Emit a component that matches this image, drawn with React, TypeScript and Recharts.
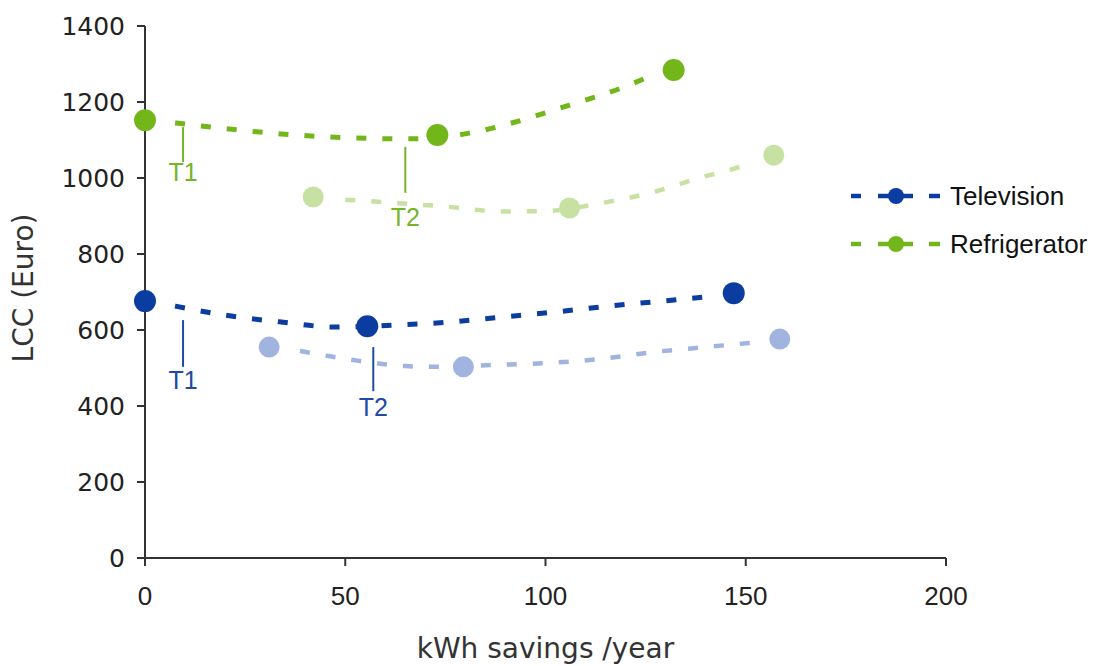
import React from 'react';
import { ComposedChart, Line, Scatter, XAxis, YAxis, ReferenceLine, ReferenceDot } from 'recharts';

// ---- tick labels ----
const xTicks = [0, 50, 100, 150, 200];
const yTicks = [0, 200, 400, 600, 800, 1000, 1200, 1400];

// ---- measured points (x: kWh savings/year, y: LCC Euro) ----
const tvDark = [
  { x: 0, y: 676 },
  { x: 55.5, y: 610 },
  { x: 147, y: 697 },
];
const tvLight = [
  { x: 31, y: 555 },
  { x: 79.5, y: 503 },
  { x: 158.5, y: 576 },
];
const fridgeDark = [
  { x: 0, y: 1152 },
  { x: 73, y: 1113 },
  { x: 132, y: 1284 },
];
const fridgeLight = [
  { x: 42, y: 950 },
  { x: 106, y: 921 },
  { x: 157, y: 1060 },
];

// ---- dashed trend curves ----
const tvDarkCurve = [
  { x: 7.5, y: 663 }, { x: 20, y: 639 }, { x: 34, y: 621 }, { x: 47, y: 608 },
  { x: 63, y: 613 }, { x: 76, y: 621 }, { x: 89, y: 634 }, { x: 102, y: 647 },
  { x: 116, y: 663 }, { x: 129, y: 676 }, { x: 142, y: 689 },
];
const tvLightCurve = [
  { x: 38.7, y: 545 }, { x: 52, y: 521 }, { x: 65, y: 505 }, { x: 72, y: 503 },
  { x: 87, y: 508 }, { x: 100, y: 513 }, { x: 114, y: 524 }, { x: 127, y: 542 },
  { x: 140, y: 555 }, { x: 153, y: 568 },
];
const fridgeDarkCurve = [
  { x: 7.5, y: 1145 }, { x: 20, y: 1130 }, { x: 34, y: 1116 }, { x: 50, y: 1106 },
  { x: 66, y: 1103 }, { x: 81, y: 1118 }, { x: 94, y: 1152 }, { x: 106, y: 1192 },
  { x: 119, y: 1237 }, { x: 125, y: 1263 },
];
const fridgeLightCurve = [
  { x: 50, y: 943 }, { x: 63, y: 934 }, { x: 76, y: 924 }, { x: 89, y: 912 },
  { x: 100, y: 913 }, { x: 114, y: 934 }, { x: 127, y: 963 }, { x: 139, y: 1002 },
  { x: 146, y: 1021 }, { x: 152, y: 1042 },
];

// ---- annotations (T1/T2) ----
const fridgeNotes = [
  { label: 'T1', x: 9.5, yTop: 1134, yBottom: 1042, yText: 1016 },
  { label: 'T2', x: 65, yTop: 1082, yBottom: 961, yText: 897 },
];
const tvNotes = [
  { label: 'T1', x: 9.5, yTop: 626, yBottom: 503, yText: 468 },
  { label: 'T2', x: 57, yTop: 555, yBottom: 439, yText: 397 },
];

const legendItems = ['Television', 'Refrigerator'];

const GREEN = '#72b61a';
const GREEN_LIGHT = '#c7e1a2';
const BLUE = '#0b3c9f';
const BLUE_LIGHT = '#a0b4df';
const GREEN_TEXT = '#74b52a';
const BLUE_TEXT = '#2149a6';

const dot = (color: string, r: number) => (p: any) =>
  <circle cx={p.cx} cy={p.cy} r={r} fill={color} />;

const XTitle = (props: any) => {
  const vb = props.viewBox;
  return (
    <text x={vb.x + vb.width / 2} y={vb.y + 100} textAnchor="middle"
      fontFamily="DejaVu Sans, Verdana, sans-serif" fontSize={28} fill="#333">
      kWh savings /year
    </text>
  );
};
const YTitle = (props: any) => {
  const vb = props.viewBox;
  const cx = 23;
  const cy = vb.y + vb.height / 2 - 4;
  return (
    <text x={cx} y={cy} transform={`rotate(-90, ${cx}, ${cy})`} textAnchor="middle"
      dominantBaseline="central" fontFamily="DejaVu Sans, Verdana, sans-serif" fontSize={28} fill="#333">
      LCC (Euro)
    </text>
  );
};

export default function App() {
  const dash = '10 16';
  return (
    <div style={{ position: 'absolute', left: 0, top: 0, width: 1098, height: 666, background: '#fff' }}>
      <ComposedChart width={1098} height={666} margin={{ top: 26, right: 152, bottom: 0, left: 0 }}>
        <XAxis type="number" dataKey="x" domain={[0, 200]} ticks={xTicks} interval={0}
          height={108} tickSize={8} tickMargin={21}
          axisLine={{ stroke: '#333', strokeWidth: 2 }} tickLine={{ stroke: '#333', strokeWidth: 2 }}
          tick={{ fill: '#222', fontSize: 26, fontFamily: 'Liberation Sans, Arial, sans-serif' }}
          label={XTitle} />
        <YAxis type="number" dataKey="y" domain={[0, 1400]} ticks={yTicks} interval={0}
          width={145} tickSize={8} tickMargin={12}
          axisLine={{ stroke: '#333', strokeWidth: 2 }} tickLine={{ stroke: '#333', strokeWidth: 2 }}
          tick={{ fill: '#222', fontSize: 25, fontFamily: 'DejaVu Sans, Verdana, sans-serif' }}
          label={YTitle} />

        <Line data={fridgeLightCurve} dataKey="y" type="monotone" stroke={GREEN_LIGHT} strokeWidth={4.5}
          strokeDasharray={dash} dot={false} activeDot={false} isAnimationActive={false} legendType="none" />
        <Line data={fridgeDarkCurve} dataKey="y" type="monotone" stroke={GREEN} strokeWidth={5}
          strokeDasharray={dash} dot={false} activeDot={false} isAnimationActive={false} legendType="none" />
        <Line data={tvLightCurve} dataKey="y" type="monotone" stroke={BLUE_LIGHT} strokeWidth={4.5}
          strokeDasharray={dash} dot={false} activeDot={false} isAnimationActive={false} legendType="none" />
        <Line data={tvDarkCurve} dataKey="y" type="monotone" stroke={BLUE} strokeWidth={5}
          strokeDasharray={dash} dot={false} activeDot={false} isAnimationActive={false} legendType="none" />

        {fridgeNotes.map((n) => (
          <ReferenceLine key={'fl' + n.label} segment={[{ x: n.x, y: n.yTop }, { x: n.x, y: n.yBottom }]}
            stroke={GREEN_TEXT} strokeWidth={2} />
        ))}
        {fridgeNotes.map((n) => (
          <ReferenceDot key={'ft' + n.label} x={n.x} y={n.yText} r={0} stroke="none" fill="none"
            label={{ value: n.label, position: 'center', fill: GREEN_TEXT, fontSize: 25,
              fontFamily: 'Liberation Sans, Arial, sans-serif' }} />
        ))}
        {tvNotes.map((n) => (
          <ReferenceLine key={'tl' + n.label} segment={[{ x: n.x, y: n.yTop }, { x: n.x, y: n.yBottom }]}
            stroke={BLUE_TEXT} strokeWidth={2} />
        ))}
        {tvNotes.map((n) => (
          <ReferenceDot key={'tt' + n.label} x={n.x} y={n.yText} r={0} stroke="none" fill="none"
            label={{ value: n.label, position: 'center', fill: BLUE_TEXT, fontSize: 25,
              fontFamily: 'Liberation Sans, Arial, sans-serif' }} />
        ))}

        <Scatter data={fridgeLight} dataKey="y" shape={dot(GREEN_LIGHT, 10.5)} isAnimationActive={false} />
        <Scatter data={fridgeDark} dataKey="y" shape={dot(GREEN, 11)} isAnimationActive={false} />
        <Scatter data={tvLight} dataKey="y" shape={dot(BLUE_LIGHT, 10.5)} isAnimationActive={false} />
        <Scatter data={tvDark} dataKey="y" shape={dot(BLUE, 11)} isAnimationActive={false} />
      </ComposedChart>

      <svg width={1098} height={666} style={{ position: 'absolute', left: 0, top: 0, pointerEvents: 'none' }}>
        {legendItems.map((name, i) => {
          const cy = 196 + i * 48;
          const c = i === 0 ? BLUE : GREEN;
          return (
            <g key={name}>
              <line x1={851} x2={861} y1={cy} y2={cy} stroke={c} strokeWidth={4.5} />
              <line x1={878} x2={913} y1={cy} y2={cy} stroke={c} strokeWidth={4.5} />
              <circle cx={896} cy={cy} r={8} fill={c} />
              <line x1={929} x2={940} y1={cy} y2={cy} stroke={c} strokeWidth={4.5} />
              <text x={950} y={cy} dominantBaseline="central" fontSize={26}
                fontFamily="Liberation Sans, Arial, sans-serif" fill="#111">{name}</text>
            </g>
          );
        })}
      </svg>
    </div>
  );
}
